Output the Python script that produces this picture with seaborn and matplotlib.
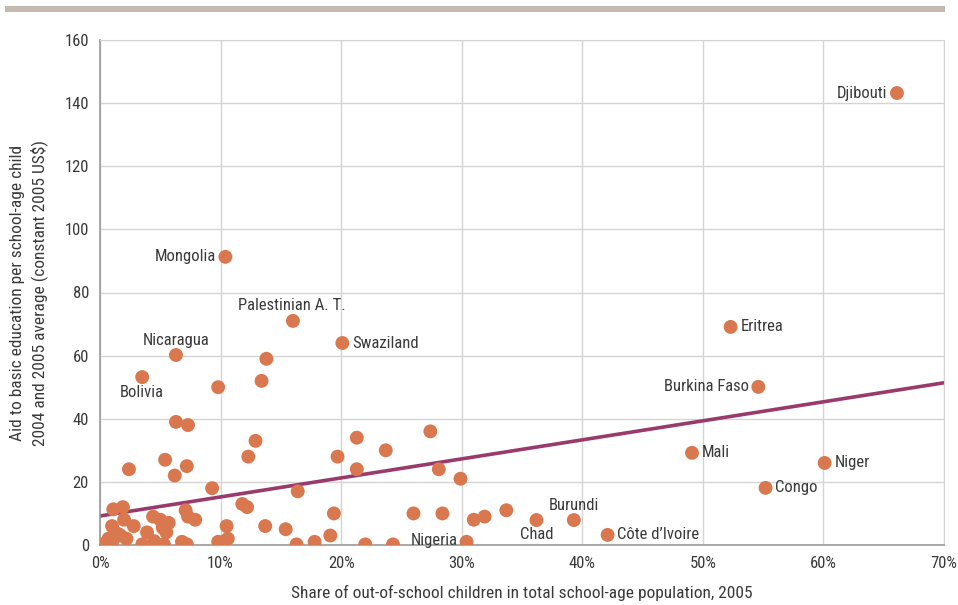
import matplotlib
matplotlib.use("Agg")
import matplotlib.pyplot as plt
import seaborn as sns
import pandas as pd
from matplotlib.patches import Rectangle
from matplotlib.ticker import FuncFormatter

# unlabelled countries: share out of school (%), aid per child (US$)
other_share = [9.8, 13.8, 13.4, 6.3, 7.3, 12.9, 12.3, 2.4, 5.4, 7.2, 6.2, 9.3,
               16.4, 11.8, 12.2, 1.1, 1.9, 2.0, 1.0, 2.8, 4.4, 5.0, 5.7, 5.2,
               5.5, 7.1, 7.3, 7.9, 3.9, 1.7, 2.2, 0.2, 0.7, 1.0, 1.5, 3.5,
               4.5, 4.7, 5.3, 6.8, 7.2, 9.8, 10.2, 10.6, 10.5, 13.7, 15.4, 16.3,
               21.3, 19.7, 23.7, 27.4, 21.3, 28.1, 29.9, 19.4, 26.0, 28.4, 31.0,
               31.9, 33.7, 19.1, 17.8, 22.0, 24.3]
other_aid = [50, 59, 52, 39, 38, 33, 28, 24, 27, 25, 22, 18,
             17, 13, 12, 11.3, 12, 8, 6, 6, 9, 8, 7, 5.5,
             4, 11, 9, 8, 4, 3, 2, 0.2, 2, 1, 3.5, 0.2,
             1.2, 0.2, 0.2, 1, 0.2, 1, 1, 2, 6, 6, 5, 0.2,
             34, 28, 30, 36, 24, 24, 21, 10, 10, 10, 8,
             9, 11, 3, 1, 0.2, 0.2]

# labelled countries
label_names = ["Djibouti", "Mongolia", "Palestinian A. T.", "Swaziland", "Nicaragua",
               "Bolivia", "Eritrea", "Burkina Faso", "Mali", "Niger", "Congo",
               "Burundi", "Chad", "Côte d\u2019Ivoire", "Nigeria"]
label_share = [66.1, 10.4, 16.0, 20.1, 6.3, 3.5, 52.3, 54.6, 49.1, 60.1, 55.2,
               39.3, 36.2, 42.1, 30.4]
label_aid = [143.2, 91.3, 71.0, 64.0, 60.2, 53.2, 69.1, 50.1, 29.2, 26.0, 18.1,
             7.9, 7.9, 3.2, 1.0]

# trend line
trend_share = [0, 70]
trend_aid = [9.2, 51.4]

x_ticks = [0, 10, 20, 30, 40, 50, 60, 70]
y_ticks = [0, 20, 40, 60, 80, 100, 120, 140, 160]

df = pd.DataFrame({"share": other_share + label_share,
                   "aid": other_aid + label_aid})
trend = pd.DataFrame({"share": trend_share, "aid": trend_aid})

sns.set_style("white")
plt.rcParams["font.family"] = ["Noto Sans Condensed", "Roboto Condensed",
                               "Liberation Sans Narrow", "Roboto", "DejaVu Sans"]
text_col = "#3a3a3a"
dot_col = "#d9774f"
line_col = "#9a3a6c"

fig = plt.figure(figsize=(9.58, 6.05), dpi=100)
ax = fig.add_axes([100 / 958, 1 - 545 / 605, 844 / 958, 505 / 605])

sns.lineplot(data=trend, x="share", y="aid", ax=ax, color=line_col, lw=2.6, zorder=2)
sns.scatterplot(data=df, x="share", y="aid", ax=ax, color=dot_col, s=100,
                edgecolor="none", zorder=3)

# label placement: (dx, dy) in points, ha, va
place = {
    "Djibouti": (-7, 0, "right", "center"),
    "Mongolia": (-7, 0, "right", "center"),
    "Palestinian A. T.": (-1, 6, "center", "bottom"),
    "Swaziland": (7, 0, "left", "center"),
    "Nicaragua": (0, 5, "center", "bottom"),
    "Bolivia": (0, -6, "center", "top"),
    "Eritrea": (7, 0, "left", "center"),
    "Burkina Faso": (-7, 0, "right", "center"),
    "Mali": (7, 0, "left", "center"),
    "Niger": (7, 0, "left", "center"),
    "Congo": (7, 0, "left", "center"),
    "Burundi": (0, 5, "center", "bottom"),
    "Chad": (0, -5, "center", "top"),
    "Côte d\u2019Ivoire": (7, 0, "left", "center"),
    "Nigeria": (-6, 1, "right", "center"),
}
for name, xv, yv in zip(label_names, label_share, label_aid):
    dx, dy, ha, va = place[name]
    ax.annotate(name, (xv, yv), xytext=(dx, dy), textcoords="offset points",
                ha=ha, va=va, fontsize=12, color=text_col, zorder=4)

ax.set_xlim(0, 70)
ax.set_ylim(0, 160)
ax.set_xticks(x_ticks)
ax.set_yticks(y_ticks)
ax.xaxis.set_major_formatter(FuncFormatter(lambda v, p: f"{v:.0f}%"))
ax.grid(True, color="#d4d4d4", lw=1)
ax.set_axisbelow(True)
for side in ["top", "right"]:
    ax.spines[side].set_color("#d4d4d4")
for side in ["left", "bottom"]:
    ax.spines[side].set_color("#9a9a9a")
    ax.spines[side].set_linewidth(1.2)
ax.tick_params(axis="both", length=0, labelsize=12, colors=text_col, pad=8)

ax.set_xlabel("Share of out-of-school children in total school-age population, 2005",
              fontsize=12.5, color=text_col, labelpad=10)
ax.set_ylabel("Aid to basic education per school-age child\n"
              "2004 and 2005 average (constant 2005 US$)",
              fontsize=12.5, color=text_col, labelpad=12, linespacing=1.35)

# grey band across the top
fig.add_artist(Rectangle((5 / 958, 1 - 12 / 605), 940 / 958, 6 / 605,
                         transform=fig.transFigure, color="#c4bab0", lw=0))

fig.savefig("out.png", dpi=100)
